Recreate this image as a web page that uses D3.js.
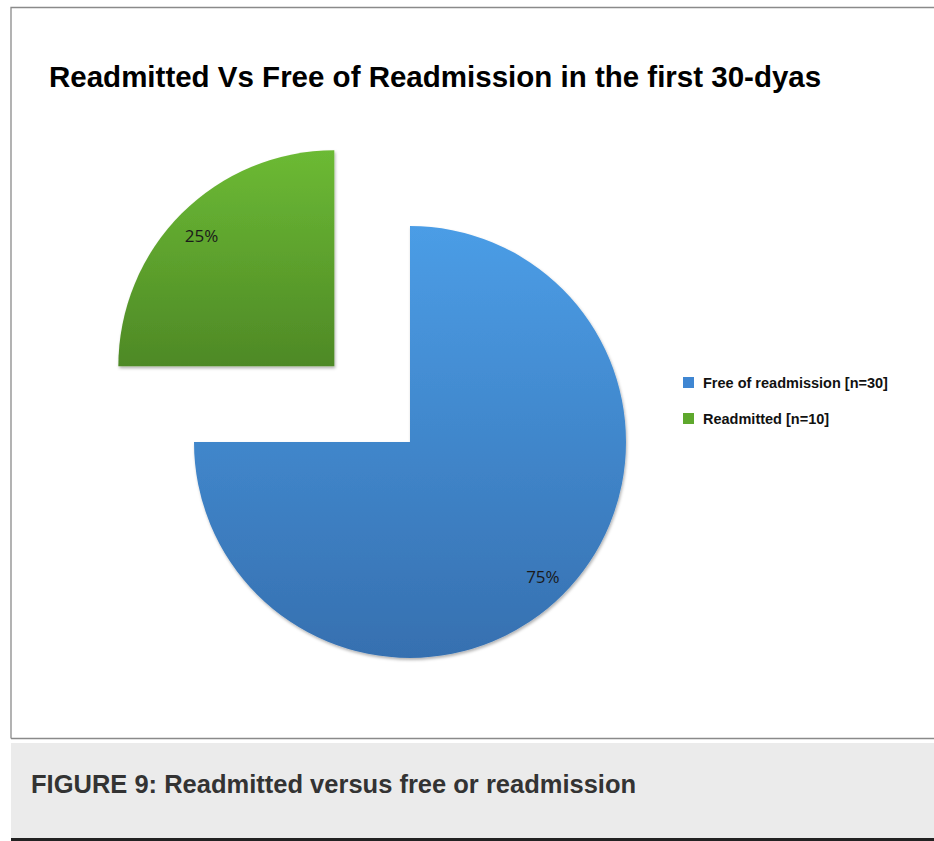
<!DOCTYPE html>
<html>
<head>
<meta charset="utf-8">
<script src="https://cdn.jsdelivr.net/npm/d3@7"></script>
<style>
  html, body { margin: 0; padding: 0; background: #ffffff; }
  svg { display: block; }
</style>
</head>
<body>
<svg id="chart" width="934" height="841"></svg>
<script>
// Chart data
const categories = ["Free of readmission [n=30]", "Readmitted [n=10]"];
const counts = [30, 10];
const percentLabels = ["75%", "25%"];
const explode = [0, 107];
const titleText = "Readmitted Vs Free of Readmission in the first 30-dyas";
const captionText = "FIGURE 9: Readmitted versus free or readmission";

const colorsTop = ["#4b9de6", "#6cba34"];
const colorsBottom = ["#3670b0", "#4e8926"];
const legendColors = ["#3f86d2", "#5ea82d"];

const svg = d3.select("#chart");
const defs = svg.append("defs");

// Vertical fills per slice, lighter at top
categories.forEach((c, i) => {
  const g = defs.append("linearGradient")
    .attr("id", "grad" + i)
    .attr("x1", 0).attr("y1", 0).attr("x2", 0).attr("y2", 1);
  g.append("stop").attr("offset", "0%").attr("stop-color", colorsTop[i]);
  g.append("stop").attr("offset", "100%").attr("stop-color", colorsBottom[i]);
});

const shadow = defs.append("filter").attr("id", "shadow")
  .attr("x", "-10%").attr("y", "-10%").attr("width", "130%").attr("height", "130%");
shadow.append("feDropShadow")
  .attr("dx", 1).attr("dy", 2).attr("stdDeviation", 1.5)
  .attr("flood-color", "#000").attr("flood-opacity", 0.3);

// Frame of the chart area
svg.append("path")
  .attr("d", "M11,738.5 L11,7.5 L934,7.5 M11,738.5 L934,738.5")
  .attr("fill", "none").attr("stroke", "#8a8a8a").attr("stroke-width", 1.3);

// Caption band
svg.append("rect").attr("x", 11).attr("y", 743).attr("width", 923).attr("height", 95)
  .attr("fill", "#ebebeb");
svg.append("rect").attr("x", 11).attr("y", 838).attr("width", 923).attr("height", 3)
  .attr("fill", "#222222");
svg.append("text")
  .attr("x", 31).attr("y", 793)
  .attr("font-family", "Liberation Sans, Arial, sans-serif")
  .attr("font-weight", "bold").attr("font-size", 25.5)
  .attr("fill", "#333333")
  .text(captionText);

// Title
svg.append("text")
  .attr("x", 49).attr("y", 87)
  .attr("font-family", "Liberation Sans, Arial, sans-serif")
  .attr("font-weight", "bold").attr("font-size", 29.5)
  .attr("fill", "#000000")
  .text(titleText);

// Pie
const cx = 410, cy = 442, radius = 216;
const pie = d3.pie().sort(null).startAngle(0).endAngle(2 * Math.PI);
const arcs = pie(counts);
const arc = d3.arc().innerRadius(0).outerRadius(radius);
const labelArc = d3.arc().innerRadius(radius * 0.87).outerRadius(radius * 0.87);

const pieG = svg.append("g").attr("transform", `translate(${cx},${cy})`);

const slices = pieG.selectAll("g.slice").data(arcs).join("g")
  .attr("class", "slice")
  .attr("transform", (d, i) => {
    const a = (d.startAngle + d.endAngle) / 2;
    return `translate(${Math.sin(a) * explode[i]},${-Math.cos(a) * explode[i]})`;
  });

slices.append("path")
  .attr("d", arc)
  .attr("fill", (d, i) => `url(#grad${i})`)
  .attr("filter", "url(#shadow)");

slices.append("text")
  .attr("transform", d => `translate(${labelArc.centroid(d)})`)
  .attr("text-anchor", "middle")
  .attr("dy", "0.5em")
  .attr("font-family", "Open Sans, Liberation Sans, sans-serif")
  .attr("font-size", 17)
  .attr("fill", "#1a1a1a")
  .text((d, i) => percentLabels[i]);

// Legend
const legend = svg.append("g").attr("transform", "translate(683,377)");
const items = legend.selectAll("g").data(categories).join("g")
  .attr("transform", (d, i) => `translate(0,${i * 36})`);
items.append("rect")
  .attr("width", 11).attr("height", 11)
  .attr("fill", (d, i) => legendColors[i]);
items.append("text")
  .attr("x", 20).attr("y", 11)
  .attr("font-family", "Liberation Sans, Arial, sans-serif")
  .attr("font-weight", "bold").attr("font-size", 14.5)
  .attr("fill", "#111111")
  .text(d => d);
</script>
</body>
</html>
